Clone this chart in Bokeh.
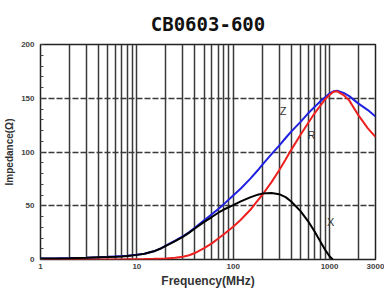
from bokeh.plotting import figure
from bokeh.models import FixedTicker, NumeralTickFormatter, Range1d
from bokeh.embed import file_html
from bokeh.resources import INLINE
from bokeh.core.properties import value

# Data (frequency in MHz, impedance in ohm)
freq = [1, 1.5, 2, 3, 4, 5, 6, 7, 8, 10, 12, 15, 18, 20, 25, 30, 35, 40, 50,
        60, 70, 80, 100, 120, 150, 180, 200, 250, 300, 350, 400, 500, 600, 700,
        800, 900, 1000, 1100, 1200, 1400, 1600, 2000, 2500, 3000]
z_vals = [1, 1.1, 1.3, 1.7, 2.1, 2.5, 2.9, 3.2, 3.6, 4.4, 5.4, 7.6, 10.6, 12.8,
          17.5, 21.5, 25.5, 29.5, 36.5, 42, 47, 51.5, 59.5, 66, 75, 83, 88, 98, 106,
          113, 119, 128, 136, 142, 147, 151, 154.5, 156.5, 157, 155, 152, 145, 139, 133]
r_vals = [0, 0, 0, 0, 0, 0.1, 0.1, 0.1, 0.2, 0.3, 0.4, 0.6, 0.8, 1, 1.6, 2.6, 4,
          6, 10.5, 15, 19.5, 23.5, 30.5, 37, 46, 55, 60, 72, 83, 93, 102, 116, 127,
          136, 143, 149, 153, 156, 156.5, 153, 148, 134, 122, 114]
freq_x = [1, 1.5, 2, 3, 4, 5, 6, 7, 8, 10, 12, 15, 18, 20, 25, 30, 35, 40, 50,
          60, 70, 80, 100, 120, 150, 180, 200, 250, 300, 350, 400, 500, 600, 700,
          800, 900, 1000, 1080]
x_vals = [0.9, 1, 1.2, 1.6, 2, 2.3, 2.6, 2.9, 3.3, 4.3, 5.4, 7.6, 10.5, 12.6, 17.2,
          21, 25, 28.8, 35, 39.5, 43.5, 46.5, 50.5, 54, 57.8, 60.3, 61.3, 61.8, 60.8,
          58, 54, 45, 35.5, 26, 17, 9, 3, 0]

x_ticks = [1, 10, 100, 1000, 3000]
y_ticks = [0, 50, 100, 150, 200]
x_grid = [2, 3, 4, 5, 6, 7, 8, 9, 10, 20, 30, 40, 50, 60, 70, 80, 90, 100,
          200, 300, 400, 500, 600, 700, 800, 900, 1000, 2000]
y_grid = [50, 100, 150]
curve_labels = ["Z", "R", "X"]
label_freq = [330, 650, 1030]
label_val = [138, 116, 35]

p = figure(width=384, height=290, x_axis_type="log",
           x_range=Range1d(1, 3000), y_range=Range1d(0, 200),
           output_backend="svg", toolbar_location=None,
           min_border_left=40, min_border_right=9, min_border_top=43,
           min_border_bottom=29, title="CB0603-600")

p.title.text_font = "DejaVu Sans Mono"
p.title.text_font_size = "19px"
p.title.text_font_style = "bold"
p.title.align = "center"
p.title.text_color = "#111111"
p.title.standoff = 20

p.outline_line_color = "#222222"
p.outline_line_width = 1.5

p.xaxis.ticker = FixedTicker(ticks=x_ticks)
p.xaxis.formatter = NumeralTickFormatter(format="0")
p.yaxis.ticker = FixedTicker(ticks=y_ticks, minor_ticks=list(range(0, 201, 10)))
p.xgrid.ticker = FixedTicker(ticks=x_grid)
p.ygrid.ticker = FixedTicker(ticks=y_grid)

for ax in (p.xaxis[0], p.yaxis[0]):
    ax.axis_line_color = None
    ax.major_tick_out = 0
    ax.major_tick_in = 0
    ax.minor_tick_out = 0
    ax.major_label_text_font = "Liberation Sans"
    ax.major_label_text_font_size = "8px"
    ax.major_label_text_font_style = "bold"
    ax.major_label_text_color = "#444444"
    ax.axis_label_text_font = "Liberation Sans"
    ax.axis_label_text_font_style = "bold"
    ax.axis_label_text_color = "#333333"

p.xaxis.minor_tick_in = 0
p.yaxis.minor_tick_in = 3
p.yaxis.minor_tick_line_color = "#444444"
p.xaxis.major_label_standoff = 4
p.yaxis.major_label_standoff = 6
p.xaxis.axis_label = "Frequency(MHz)"
p.xaxis.axis_label_text_font_size = "12px"
p.xaxis.axis_label_standoff = 2
p.yaxis.axis_label = "Impedance(Ω)"
p.yaxis.axis_label_text_font_size = "10px"
p.yaxis.axis_label_standoff = 3

p.xgrid.grid_line_color = "#3a3a3a"
p.xgrid.grid_line_width = 1.5
p.ygrid.grid_line_color = "#3a3a3a"
p.ygrid.grid_line_width = 1.5
p.ygrid.grid_line_dash = "6 2"

p.line(freq, z_vals, line_color="#2020e0", line_width=2)
p.line(freq, r_vals, line_color="#ee2020", line_width=2)
p.line(freq_x, x_vals, line_color="#000000", line_width=2)

p.text(label_freq, label_val, text=curve_labels, text_font=value("Liberation Sans"),
       text_font_size="11px", text_color="#333333", text_align="center",
       text_baseline="middle")

open("out.html", "w").write(file_html(p, INLINE))
